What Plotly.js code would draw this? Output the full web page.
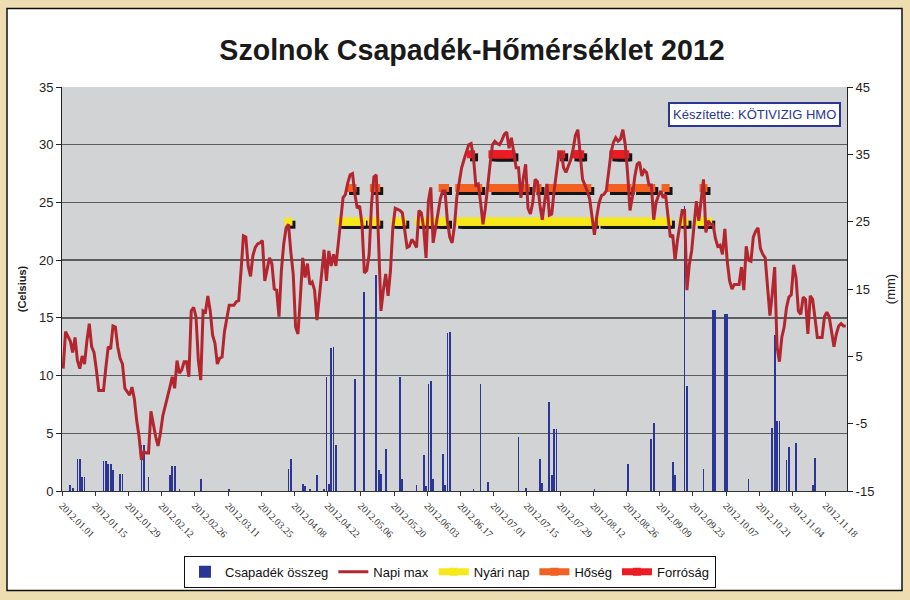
<!DOCTYPE html>
<html><head><meta charset="utf-8">
<script src="https://cdn.plot.ly/plotly-3.0.1.min.js"></script>
<style>html,body{margin:0;padding:0;background:#fff}#chart{width:910px;height:600px}</style>
</head><body><div id="chart"></div>
<script>
// day index 0 = 2012.01.01
const tickDays = [0,14,28,42,56,70,84,98,112,126,140,154,168,182,196,210,224,238,252,266,280,294,308,322];
const tickLabels = ['2012.01.01','2012.01.15','2012.01.29','2012.02.12','2012.02.26','2012.03.11','2012.03.25','2012.04.08','2012.04.22','2012.05.06','2012.05.20','2012.06.03','2012.06.17','2012.07.01','2012.07.15','2012.07.29','2012.08.12','2012.08.26','2012.09.09','2012.09.23','2012.10.07','2012.10.21','2012.11.04','2012.11.18'];
const mmTicks = [-15,-5,5,15,25,35,45];
const mmTickLabels = ['-15','-5','5','15','25','35','45'];

// Napi max (Celsius), daily from 2012.01.01
const tmax = [
10.6,13.8,13.4,13.0,12.0,13.3,11.3,10.6,11.7,11.0,
13.0,14.5,12.5,12.0,10.5,8.7,8.7,8.7,10.7,12.5,
12.3,14.3,14.2,12.5,11.5,11.0,8.9,8.6,8.3,9.0,
8.0,6.1,4.7,2.7,3.4,3.3,3.3,6.9,5.6,4.7,
3.9,5.0,6.5,7.3,8.0,9.0,9.9,8.9,11.3,10.2,
10.5,11.2,11.2,9.9,15.6,15.9,15.1,11.3,9.6,15.6,
15.5,16.9,15.6,13.5,12.8,11.0,11.5,11.6,13.8,14.8,
16.1,16.1,16.1,16.4,16.5,19.1,22.1,22.0,19.5,18.6,
20.4,21.1,21.4,21.5,21.7,18.2,19.1,20.2,19.7,17.5,
17.4,15.1,19.1,21.4,22.8,23.1,20.7,18.8,14.2,13.6,
16.8,20.2,18.5,19.7,17.9,18.1,17.4,14.8,16.8,19.1,
20.9,18.2,20.8,19.5,20.5,19.5,21.7,23.4,25.4,25.7,
26.7,27.4,27.5,25.7,24.5,24.7,23.1,18.9,19.1,20.5,
24.8,27.2,27.4,21.0,15.6,17.4,18.8,16.9,19.1,22.8,
24.5,24.4,24.3,24.1,22.5,21.1,21.2,21.8,21.5,21.1,
24.3,24.1,22.8,20.2,25.1,26.3,21.5,22.8,24.0,25.3,
26.0,26.0,23.4,22.0,21.5,23.0,25.5,26.8,28.0,28.7,
29.4,30.0,30.1,28.9,26.5,26.6,25.0,23.1,24.5,26.6,
28.3,30.0,30.3,30.1,30.0,30.4,30.9,31.1,29.7,30.6,
29.3,28.0,28.0,25.4,27.1,28.3,24.5,24.0,25.0,27.0,
26.8,24.8,23.5,25.0,26.6,23.9,24.0,26.0,27.8,29.2,
29.4,28.0,27.6,28.2,28.7,29.6,30.8,31.3,29.2,27.0,
26.5,26.0,25.3,23.5,22.2,23.8,25.0,25.6,25.7,26.0,
27.5,29.3,30.2,30.6,30.3,30.5,31.3,30.0,27.5,24.3,
25.5,27.2,28.3,28.5,27.3,27.8,27.6,26.5,26.5,23.5,
25.0,25.6,26.0,25.4,25.7,23.7,22.0,22.2,20.0,21.7,
23.1,24.3,24.3,17.4,19.6,20.8,23.0,25.1,23.4,25.5,
27.0,22.4,23.4,23.1,23.1,21.9,21.2,21.3,20.5,22.7,
19.9,18.2,17.5,17.9,17.9,17.9,19.4,17.4,21.2,20.0,
19.9,22.0,22.5,22.8,21.0,20.5,20.2,17.5,15.2,17.1,
19.4,12.5,11.2,13.3,14.2,15.9,16.8,17.0,19.6,18.5,
15.6,15.3,16.8,16.6,13.6,16.9,16.6,15.0,13.3,13.3,
13.3,15.1,15.5,15.1,13.6,12.5,13.6,14.3,14.5,14.3,
14.3];

// Csapadék összeg: rainy days (day index) and amounts
const rainDay = [3,4,6,7,8,9,17,18,19,20,21,24,25,33,34,36,45,46,47,49,58,70,95,96,101,102,104,107,110,111,112,113,114,115,123,127,132,133,134,136,142,143,149,152,153,154,155,156,160,161,162,163,173,176,179,192,195,201,202,205,206,207,208,224,238,248,249,257,258,262,263,270,274,275,279,280,289,299,300,301,302,305,306,309,316,317];
const rainMm  = [0.5,0.3,2.8,2.8,1.2,1.2,2.6,2.6,2.3,2.3,1.8,1.5,1.5,4.0,4.0,1.2,1.4,2.2,2.2,0.2,1.0,0.2,1.9,2.8,0.6,0.4,0.2,1.4,0.2,9.9,0.6,12.4,12.5,4.0,9.7,17.2,18.7,1.8,1.5,3.6,9.9,1.0,0.5,3.1,0.4,9.3,9.5,1.0,3.2,0.5,13.7,13.8,0.2,9.3,0.8,4.7,0.3,2.8,0.7,7.7,1.4,5.4,5.4,0.2,2.3,4.5,5.9,2.5,1.4,24.7,9.1,1.9,15.7,15.7,15.3,15.3,1.0,5.5,13.5,6.1,6.1,2.7,3.8,4.2,0.5,2.9];

// threshold-day runs [first day, last day]
const nyariNapRuns = [[95,95],[117,126],[130,132],[140,143],[150,151],[154,155],[158,161],[167,223],[227,255],[261,262],[268,272]];
const hosegRuns = [[121,122],[131,132],[160,161],[167,175],[181,192],[194,195],[200,200],[205,205],[208,221],[231,238],[242,248],[254,254],[270,270]];
const forrosagRuns = [[172,172],[181,189],[210,210],[216,218],[232,237]];
const nyariNapLevel = 25, hosegLevel = 30, forrosagLevel = 35;

const days = tmax.map((_, i) => i);
function runSeries(runs, level) {
  const y = days.map(() => null);
  runs.forEach(([a, b]) => { for (let d = a; d <= b; d++) y[d] = level; });
  return y;
}
const shadowDx = 1.25, shadowDy = -0.45;

const C_BAR = '#2B3595', C_LINE = '#B3262F', C_Y = '#F7E81C', C_O = '#F26122', C_R = '#EC1C24';

function markerTraces(runs, level, color, name, rank) {
  const y = runSeries(runs, level);
  return [
    {x: days.map(d => d + shadowDx), y: y.map(v => v === null ? null : v + shadowDy), yaxis: 'y', type: 'scatter', mode: 'lines+markers',
     line: {color: '#151515', width: 7}, marker: {symbol: 'square', size: 8, color: '#151515'}, showlegend: false, hoverinfo: 'skip'},
    {x: days, y: y, yaxis: 'y', type: 'scatter', mode: 'lines+markers', name: name, legendrank: rank,
     line: {color: color, width: 7}, marker: {symbol: 'square', size: 8, color: color}}
  ];
}

const traces = [].concat(
  markerTraces(nyariNapRuns, nyariNapLevel, C_Y, 'Nyári nap', 3),
  markerTraces(hosegRuns, hosegLevel, C_O, 'Hőség', 4),
  markerTraces(forrosagRuns, forrosagLevel, C_R, 'Forróság', 5),
  [
    {x: rainDay, y: rainMm, yaxis: 'y2', type: 'bar', name: 'Csapadék összeg', legendrank: 1,
     width: 0.75, marker: {color: C_BAR, line: {width: 0}}},
    {x: days, y: tmax, yaxis: 'y2', type: 'scatter', mode: 'lines', name: 'Napi max', legendrank: 2,
     line: {color: C_LINE, width: 3}}
  ]
);

const L = 62, T = 87, PW = 785, PH = 406;
const px = v => (v - L) / PW, py = v => (T + PH - v) / PH;

const layout = {
  width: 910, height: 600,
  margin: {l: L, r: 910 - L - PW, t: T, b: 600 - T - PH},
  paper_bgcolor: '#EEDDB0',
  plot_bgcolor: '#D2D3D5',
  font: {family: 'Liberation Sans, Arial, sans-serif', size: 13, color: '#222'},
  title: {text: '<b>Szolnok Csapadék-Hőmérséklet 2012</b>', x: 472/910, xref: 'container', xanchor: 'center', y: 1 - 50/600, yref: 'container', yanchor: 'middle',
          font: {family: 'Liberation Sans, Arial, sans-serif', size: 28.6, color: '#1a1a1a'}},
  showlegend: true,
  legend: {orientation: 'h', x: px(450), xanchor: 'center', y: py(558), yanchor: 'top', bgcolor: '#fff', bordercolor: '#111', borderwidth: 1,
           font: {size: 13, color: '#111'}, traceorder: 'normal'},
  bargap: 0,
  xaxis: {range: [-0.5, 330.5], tickvals: tickDays.map(d => d - 0.5), ticktext: tickLabels, tickangle: 45,
          ticks: 'outside', ticklen: 4, tickcolor: '#333', showline: true, linecolor: '#333', linewidth: 1,
          showgrid: false, zeroline: false, tickfont: {family: 'Liberation Serif, Times New Roman, serif', size: 10, color: '#333'}},
  yaxis: {side: 'right', range: [-15, 45], tickvals: mmTicks, ticktext: mmTickLabels, ticks: 'outside', ticklen: 5, tickcolor: '#222',
          showline: true, linecolor: '#222', linewidth: 1, showgrid: false, zeroline: false,
          tickfont: {size: 13, color: '#222'}, title: {text: '(mm)', font: {size: 13, color: '#222'}, standoff: 12}},
  yaxis2: {overlaying: 'y', side: 'left', range: [0, 35], dtick: 5, ticks: 'outside', ticklen: 5, tickcolor: '#222',
           showline: true, linecolor: '#222', linewidth: 1, showgrid: true, gridcolor: '#5c5c5c', gridwidth: 1.5, zeroline: false,
           tickfont: {size: 13, color: '#222'}, title: {text: '<b>(Celsius)</b>', font: {size: 11, color: '#222'}, standoff: 10}},
  annotations: [{text: 'Készítette: KÖTIVIZIG HMO', xref: 'paper', yref: 'paper', x: px(754), y: py(115), xanchor: 'center', yanchor: 'middle', showarrow: false,
                 bgcolor: '#fff', bordercolor: C_BAR, borderwidth: 2, borderpad: 3, font: {size: 13, color: C_BAR}}],
  shapes: [
    {type: 'rect', xref: 'paper', yref: 'paper', x0: px(7), x1: px(902), y0: py(593), y1: py(8), fillcolor: '#fff',
     line: {color: '#111', width: 1.5}, layer: 'below'},
    {type: 'rect', xref: 'paper', yref: 'paper', x0: 0, x1: 1, y0: 0, y1: 1, fillcolor: '#D2D3D5', line: {width: 0}, layer: 'below'}
  ]
};

Plotly.newPlot('chart', traces, layout, {displayModeBar: false, staticPlot: true});
</script></body></html>
